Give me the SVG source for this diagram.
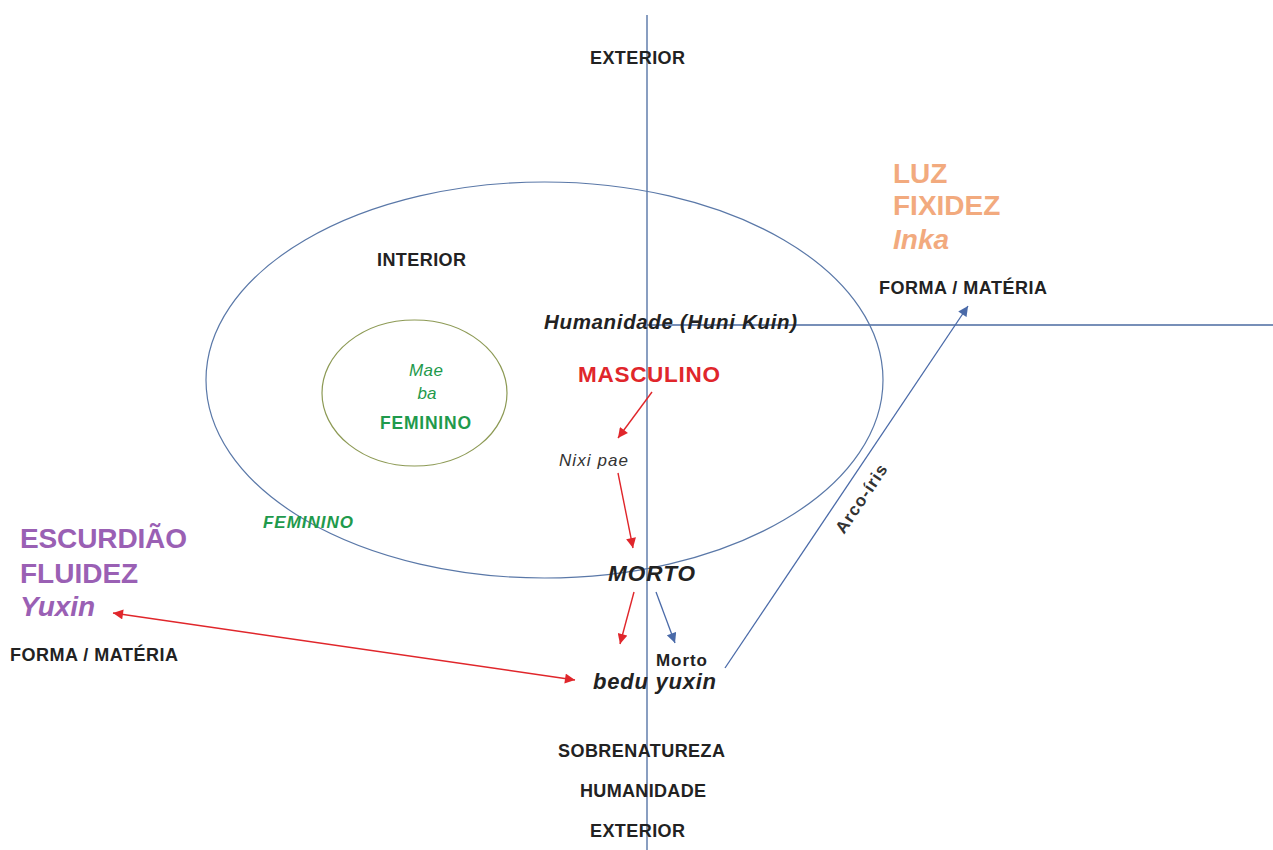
<svg xmlns="http://www.w3.org/2000/svg" width="1273" height="850" viewBox="0 0 1273 850">
<style>
text{font-family:"Liberation Sans",Arial,sans-serif}
.lbl{font-weight:bold;font-size:18px;fill:#222}
.ax{stroke:#4a6aa0;stroke-width:1.3;fill:none}
.red{stroke:#e0262b;stroke-width:1.4;fill:none}
.blue{stroke:#4a6aa8;stroke-width:1.3;fill:none}
.pur{font-weight:bold;font-size:28px;fill:#9a60b4}
.org{font-weight:bold;font-size:28px;fill:#f2aa7e}
.grn{fill:#1f9a4c}
</style>
<defs>
<marker id="ar" viewBox="0 0 10 10" refX="10" refY="5" markerWidth="11" markerHeight="10" markerUnits="userSpaceOnUse" orient="auto-start-reverse"><path d="M0,0 L10,5 L0,10 z" fill="#e0262b"/></marker>
<marker id="ab" viewBox="0 0 10 10" refX="10" refY="5" markerWidth="11" markerHeight="10" markerUnits="userSpaceOnUse" orient="auto"><path d="M0,0 L10,5 L0,10 z" fill="#4a6aa8"/></marker>
</defs>
<rect width="1273" height="850" fill="#fff"/>
<g id="axes">
<line class="ax" x1="647" y1="15" x2="647" y2="850"/>
<line class="ax" x1="647" y1="325" x2="1273" y2="325"/>
</g>
<g id="ellipse-interior">
<ellipse cx="544.5" cy="380" rx="338.5" ry="198" fill="none" stroke="#5a78a8" stroke-width="1.2"/>
</g>
<g id="ellipse-feminino">
<ellipse cx="414.5" cy="393" rx="92.5" ry="73" fill="none" stroke="#8d9a55" stroke-width="1.2"/>
<text x="426" y="376" text-anchor="middle" font-size="17" font-style="italic" class="grn" textLength="34">Mae</text>
<text x="427" y="399" text-anchor="middle" font-size="17" font-style="italic" class="grn">ba</text>
<text x="425.5" y="429" text-anchor="middle" font-size="17.5" font-weight="bold" class="grn" textLength="91">FEMININO</text>
</g>
<g id="connectors">
<line class="red" x1="652" y1="392" x2="618" y2="438" marker-end="url(#ar)"/>
<line class="red" x1="618" y1="473" x2="633" y2="548" marker-end="url(#ar)"/>
<line class="red" x1="634" y1="592" x2="620" y2="644" marker-end="url(#ar)"/>
<line class="blue" x1="656" y1="592" x2="675" y2="643" marker-end="url(#ab)"/>
<line class="red" x1="113" y1="613" x2="575" y2="680" marker-start="url(#ar)" marker-end="url(#ar)"/>
<line class="blue" x1="725" y1="668" x2="968" y2="306" marker-end="url(#ab)"/>
</g>
<g id="labels-axis">
<text class="lbl" x="637.5" y="64" text-anchor="middle" textLength="95">EXTERIOR</text>
<text class="lbl" x="421.5" y="266" text-anchor="middle" textLength="89">INTERIOR</text>
<text class="lbl" x="963" y="294" text-anchor="middle" textLength="168">FORMA / MATÉRIA</text>
<text class="lbl" x="94" y="661" text-anchor="middle" textLength="168">FORMA / MATÉRIA</text>
<text class="lbl" x="641.5" y="757" text-anchor="middle" textLength="167">SOBRENATUREZA</text>
<text class="lbl" x="643" y="797" text-anchor="middle" textLength="126">HUMANIDADE</text>
<text class="lbl" x="637.5" y="837" text-anchor="middle" textLength="95">EXTERIOR</text>
</g>
<g id="node-humanidade">
<text x="670.5" y="329" text-anchor="middle" font-size="20.5" font-weight="bold" font-style="italic" fill="#222" textLength="253">Humanidade (Huni Kuin)</text>
</g>
<g id="node-masculino">
<text x="649" y="382" text-anchor="middle" font-size="22.5" font-weight="bold" fill="#e0262b" textLength="142">MASCULINO</text>
</g>
<g id="node-nixipae">
<text x="593.5" y="466" text-anchor="middle" font-size="17" font-style="italic" fill="#333" textLength="69">Nixi pae</text>
</g>
<g id="node-feminino-outer">
<text x="308" y="528" text-anchor="middle" font-size="17" font-weight="bold" font-style="italic" class="grn" textLength="90">FEMININO</text>
</g>
<g id="node-morto">
<text x="651.5" y="581" text-anchor="middle" font-size="22.5" font-weight="bold" font-style="italic" fill="#222" textLength="87">MORTO</text>
</g>
<g id="node-bedu">
<text x="681.5" y="666" text-anchor="middle" font-size="17" font-weight="bold" fill="#222" textLength="51">Morto</text>
<text x="654.5" y="689" text-anchor="middle" font-size="22" font-weight="bold" font-style="italic" fill="#222" textLength="123">bedu yuxin</text>
</g>
<g id="node-escuridao">
<text class="pur" x="20" y="548" textLength="167">ESCURDIÃO</text>
<text class="pur" x="20" y="583">FLUIDEZ</text>
<text class="pur" x="20" y="616" font-style="italic">Yuxin</text>
</g>
<g id="node-luz">
<text class="org" x="893" y="183">LUZ</text>
<text class="org" x="893" y="215">FIXIDEZ</text>
<text class="org" x="893" y="249" font-style="italic">Inka</text>
</g>
<g id="label-arco">
<text x="0" y="0" transform="translate(866,502) rotate(-56)" text-anchor="middle" font-size="17" font-weight="bold" fill="#333" textLength="79">Arco-íris</text>
</g>
</svg>
